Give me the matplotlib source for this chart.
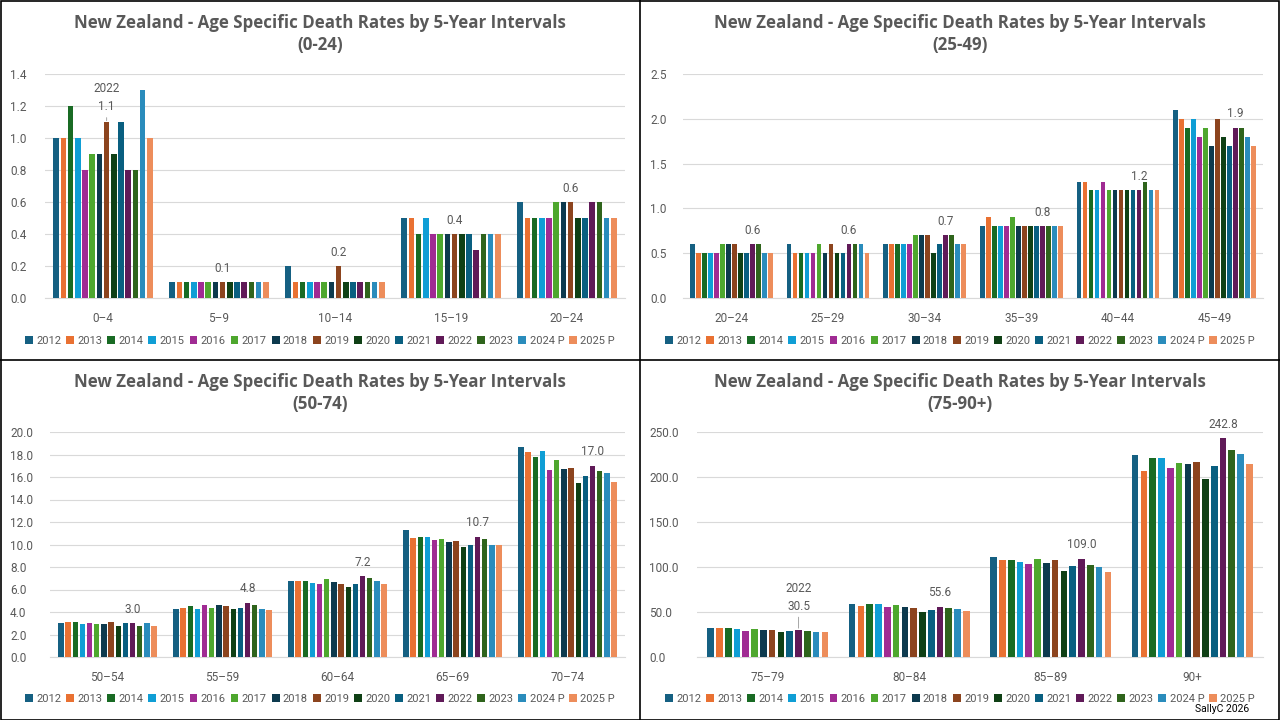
import matplotlib
matplotlib.use("Agg")
import matplotlib.pyplot as plt
import numpy as np
from matplotlib.lines import Line2D
from matplotlib.patches import Rectangle

years = ["2012", "2013", "2014", "2015", "2016", "2017", "2018", "2019",
         "2020", "2021", "2022", "2023", "2024 P", "2025 P"]
colors = ["#156082", "#E97132", "#196B24", "#0F9ED5", "#A02B93", "#4EA72E",
          "#0D3A4E", "#8C441E", "#0F4015", "#095F80", "#601A58", "#2F641C",
          "#2A8CBC", "#ED8D5B"]

# Panel 1 (0-24)
cats1 = ["0–4", "5–9", "10–14", "15–19", "20–24"]
vals1 = [
    [1.0, 1.0, 1.2, 1.0, 0.8, 0.9, 0.9, 1.1, 0.9, 1.1, 0.8, 0.8, 1.3, 1.0],
    [0.1, 0.1, 0.1, 0.1, 0.1, 0.1, 0.1, 0.1, 0.1, 0.1, 0.1, 0.1, 0.1, 0.1],
    [0.2, 0.1, 0.1, 0.1, 0.1, 0.1, 0.1, 0.2, 0.1, 0.1, 0.1, 0.1, 0.1, 0.1],
    [0.5, 0.5, 0.4, 0.5, 0.4, 0.4, 0.4, 0.4, 0.4, 0.4, 0.3, 0.4, 0.4, 0.4],
    [0.6, 0.5, 0.5, 0.5, 0.5, 0.6, 0.6, 0.6, 0.5, 0.5, 0.6, 0.6, 0.5, 0.5],
]
labels1 = ["1.1", "0.1", "0.2", "0.4", "0.6"]

# Panel 2 (25-49)
cats2 = ["20–24", "25–29", "30–34", "35–39", "40–44", "45–49"]
vals2 = [
    [0.6, 0.5, 0.5, 0.5, 0.5, 0.6, 0.6, 0.6, 0.5, 0.5, 0.6, 0.6, 0.5, 0.5],
    [0.6, 0.5, 0.5, 0.5, 0.5, 0.6, 0.5, 0.6, 0.5, 0.5, 0.6, 0.6, 0.6, 0.5],
    [0.6, 0.6, 0.6, 0.6, 0.6, 0.7, 0.7, 0.7, 0.5, 0.6, 0.7, 0.7, 0.6, 0.6],
    [0.8, 0.9, 0.8, 0.8, 0.8, 0.9, 0.8, 0.8, 0.8, 0.8, 0.8, 0.8, 0.8, 0.8],
    [1.3, 1.3, 1.2, 1.2, 1.3, 1.2, 1.2, 1.2, 1.2, 1.2, 1.2, 1.3, 1.2, 1.2],
    [2.1, 2.0, 1.9, 2.0, 1.8, 1.9, 1.7, 2.0, 1.8, 1.7, 1.9, 1.9, 1.8, 1.7],
]
labels2 = ["0.6", "0.6", "0.7", "0.8", "1.2", "1.9"]

# Panel 3 (50-74)
cats3 = ["50–54", "55–59", "60–64", "65–69", "70–74"]
vals3 = [
    [3.0, 3.1, 3.1, 2.9, 3.0, 2.9, 2.9, 3.1, 2.8, 3.0, 3.0, 2.8, 3.0, 2.8],
    [4.3, 4.4, 4.5, 4.3, 4.6, 4.4, 4.6, 4.5, 4.3, 4.4, 4.8, 4.6, 4.3, 4.2],
    [6.8, 6.8, 6.8, 6.6, 6.5, 6.9, 6.7, 6.5, 6.2, 6.5, 7.2, 7.0, 6.8, 6.5],
    [11.3, 10.6, 10.7, 10.7, 10.4, 10.5, 10.2, 10.3, 9.8, 10.0, 10.7, 10.5, 10.0, 10.0],
    [18.7, 18.2, 17.8, 18.3, 16.6, 17.5, 16.7, 16.8, 15.5, 16.1, 17.0, 16.5, 16.4, 15.6],
]
labels3 = ["3.0", "4.8", "7.2", "10.7", "17.0"]

# Panel 4 (75-90+)
cats4 = ["75–79", "80–84", "85–89", "90+"]
vals4 = [
    [31.9, 31.9, 31.9, 30.8, 28.6, 30.8, 29.7, 29.7, 27.5, 28.6, 30.5, 28.6, 27.5, 27.5],
    [58.7, 56.5, 58.7, 58.7, 55.3, 57.6, 55.3, 54.2, 49.8, 52.0, 55.6, 54.2, 53.1, 50.9],
    [111.1, 107.7, 107.7, 105.5, 103.3, 108.8, 104.4, 107.7, 95.5, 101.0, 109.0, 102.2, 99.9, 94.4],
    [224.7, 206.9, 221.4, 221.4, 210.2, 215.8, 214.7, 216.9, 198.0, 212.5, 242.8, 230.3, 225.9, 214.7],
]
labels4 = ["30.5", "55.6", "109.0", "242.8"]

titles = ["(0-24)", "(25-49)", "(50-74)", "(75-90+)"]
main_title = "New Zealand - Age Specific Death Rates by 5-Year Intervals"

W, H = 1280, 720
fig = plt.figure(figsize=(12.8, 7.2), dpi=100)
plt.rcParams['font.family'] = ['Roboto', 'DejaVu Sans']
TITLEF = ['Open Sans', 'DejaVu Sans']
GREY = "#595959"


def px_axes(l, r, t, b):
    return fig.add_axes([l / W, 1 - b / H, (r - l) / W, (b - t) / H])


panels = [
    dict(box=(45, 625, 74, 298), cats=cats1, vals=vals1, labels=labels1, lab_idx=7,
         ymax=1.4, step=0.2, title=titles[0], title_y=(23, 45), leg_y=341, leg_x=(0, 640),
         special_text="2022\n1.1", special_off=24, ypad=35),
    dict(box=(683, 1263, 74, 298), cats=cats2, vals=vals2, labels=labels2, lab_idx=10,
         ymax=2.5, step=0.5, title=titles[1], title_y=(23, 45), leg_y=341, leg_x=(640, 1280),
         special_text=None, special_off=0, ypad=33),
    dict(box=(50, 625, 432, 657), cats=cats3, vals=vals3, labels=labels3, lab_idx=10,
         ymax=20.0, step=2.0, title=titles[2], title_y=(382, 404), leg_y=699, leg_x=(0, 640),
         special_text=None, special_off=0, ypad=40),
    dict(box=(697, 1263, 432, 657), cats=cats4, vals=vals4, labels=labels4, lab_idx=10,
         ymax=250.0, step=50.0, title=titles[3], title_y=(382, 404), leg_y=699, leg_x=(640, 1280),
         special_text="2022\n30.5", special_off=32, ypad=48),
]

group_w = 0.87
n = len(years)
slot = group_w / n
FS = 8.5
LFS = 8

for p in panels:
    ax = px_axes(*p["box"])
    cats = p["cats"]
    data = np.array(p["vals"])  # cats x years
    x = np.arange(len(cats))
    handles = []
    for j in range(n):
        xs = x - group_w / 2 + slot * (j + 0.5)
        b = ax.bar(xs, data[:, j], width=slot * 0.76, color=colors[j], label=years[j], zorder=3)
        handles.append(b)
    ax.set_xlim(-0.5, len(cats) - 0.5)
    ax.set_ylim(0, p["ymax"])
    ticks = np.arange(0, p["ymax"] + p["step"] / 2, p["step"])
    ax.set_yticks(ticks)
    ax.set_yticklabels([f"{t:.1f}" for t in ticks])
    ax.set_xticks(x)
    ax.set_xticklabels(cats)
    ax.grid(axis="y", color="#D9D9D9", lw=0.8, zorder=0)
    ax.set_axisbelow(True)
    for s in ["top", "right", "left"]:
        ax.spines[s].set_visible(False)
    ax.spines["bottom"].set_color("#D9D9D9")
    ax.spines["bottom"].set_linewidth(0.8)
    ax.tick_params(axis="both", length=0, colors=GREY, labelsize=FS)
    ax.tick_params(axis="x", pad=10)
    ax.tick_params(axis="y", pad=p["ypad"] * 0.72)
    for lab in ax.get_yticklabels():
        lab.set_horizontalalignment("left")
    # data labels
    k = p["lab_idx"]
    for i, txt in enumerate(p["labels"]):
        xs = x[i] - group_w / 2 + slot * (k + 0.5)
        v = data[i, k]
        if i == 0 and p["special_text"]:
            ax.annotate(p["special_text"], xy=(xs, v), xytext=(0, p["special_off"]),
                        textcoords="offset pixels", ha="center", va="center",
                        fontsize=FS, color=GREY, linespacing=1.5,
                        arrowprops=dict(arrowstyle="-", color="#A6A6A6", lw=0.7,
                                        shrinkA=1, shrinkB=1))
        else:
            ax.annotate(txt, xy=(xs, v), xytext=(0, 14), textcoords="offset pixels",
                        ha="center", va="center", fontsize=FS, color=GREY)
    # titles
    cx = (p["leg_x"][0] + p["leg_x"][1]) / 2 / W
    fig.text(cx, 1 - p["title_y"][0] / H, main_title, ha="center", va="center",
             fontsize=12.2, fontweight="bold", color=GREY, family=TITLEF)
    fig.text(cx, 1 - p["title_y"][1] / H, p["title"], ha="center", va="center",
             fontsize=12.2, fontweight="bold", color=GREY, family=TITLEF)
    # legend
    fig.legend(handles=handles, labels=years, loc="center",
               bbox_to_anchor=(cx, 1 - p["leg_y"] / H), ncol=n, frameon=False,
               fontsize=LFS, labelcolor=GREY, handlelength=0.7, handleheight=0.7,
               handletextpad=0.3, columnspacing=0.45, borderaxespad=0, borderpad=0)

# panel borders
lw = 1.2
fig.add_artist(Rectangle((0.5 / W, 0.5 / H), 1 - 1.5 / W, 1 - 1.5 / H, transform=fig.transFigure,
                         fill=False, edgecolor="black", lw=lw))
fig.add_artist(Line2D([640 / W, 640 / W], [0, 1], transform=fig.transFigure, color="black", lw=lw))
fig.add_artist(Line2D([0, 1], [1 - 360 / H, 1 - 360 / H], transform=fig.transFigure, color="black", lw=lw))

fig.text(1222 / W, 1 - 709 / H, "SallyC 2026", ha="center", va="center", fontsize=7.5, color="black")

fig.savefig("out.png", dpi=100)
